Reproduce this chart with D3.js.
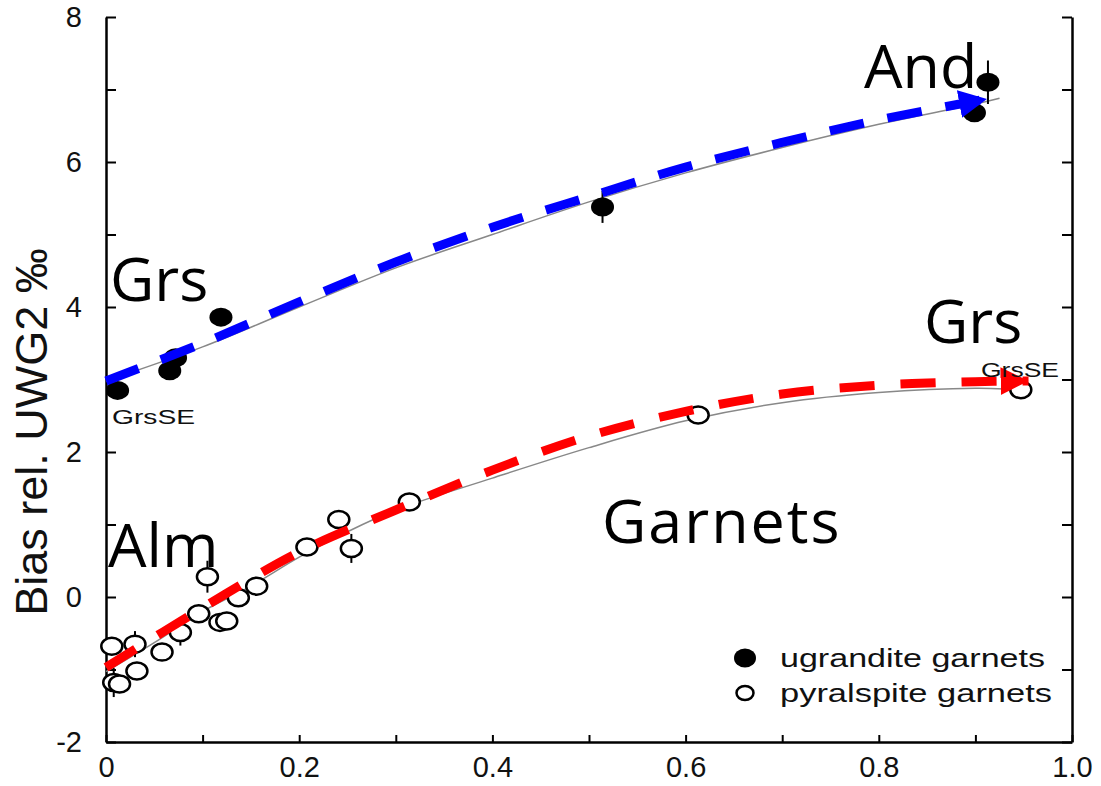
<!DOCTYPE html>
<html lang="en">
<head>
<meta charset="UTF-8">
<script src="https://d3js.org/d3.v7.min.js"></script>
<style>
  body { margin: 0; background: #fff; }
  .tick-label { font-family: "Liberation Sans", Arial, sans-serif; font-size: 29px; fill: #111; }
  .note { font-family: "Open Sans", sans-serif; font-size: 61px; fill: #000; }
  .small { font-family: "Liberation Sans", Arial, sans-serif; font-size: 20px; fill: #111; }
</style>
</head>
<body>
<svg width="1101" height="786"></svg>
<script>
// ugrandite garnets (filled)
var ugranX = [0.012, 0.066, 0.072, 0.119, 0.514, 0.899, 0.913];
var ugranY = [2.85, 3.12, 3.30, 3.86, 5.38, 6.68, 7.10];
var ugranErr = [0, 0, 0, 0, 0.22, 0, 0.3];

// pyralspite garnets (open)
var pyralX = [0.006, 0.008, 0.014, 0.03, 0.032, 0.058, 0.077, 0.096, 0.105, 0.118, 0.125, 0.137, 0.156, 0.208, 0.241, 0.254, 0.314, 0.613, 0.947];
var pyralY = [-0.68, -1.18, -1.2, -0.65, -1.02, -0.76, -0.49, -0.23, 0.28, -0.35, -0.33, -0.01, 0.15, 0.69, 1.07, 0.67, 1.31, 2.51, 2.86];
var pyralErr = [0, 0.2, 0, 0.18, 0, 0, 0.18, 0, 0.22, 0, 0, 0, 0, 0, 0, 0.2, 0, 0, 0];

// thin fit curves
var upperFitX = [0, 0.1, 0.2, 0.3, 0.4, 0.5, 0.6, 0.7, 0.8, 0.9, 0.925];
var upperFitY = [2.98, 3.45, 4.0, 4.54, 5.0, 5.45, 5.85, 6.2, 6.52, 6.8, 6.88];
var lowerFitX = [0, 0.05, 0.1, 0.15, 0.2, 0.25, 0.3, 0.4, 0.5, 0.6, 0.7, 0.8, 0.9, 0.93];
var lowerFitY = [-1.03, -0.63, -0.2, 0.15, 0.55, 0.9, 1.2, 1.64, 2.06, 2.43, 2.68, 2.82, 2.88, 2.87];

// hand-drawn dashed arrows
var blueArrowX = [0, 0.1, 0.2, 0.3, 0.4, 0.5, 0.6, 0.7, 0.8, 0.912];
var blueArrowY = [2.98, 3.5, 4.07, 4.62, 5.1, 5.52, 5.93, 6.27, 6.58, 6.87];
var redArrowX = [0, 0.1, 0.2, 0.3, 0.4, 0.5, 0.6, 0.7, 0.8, 0.9, 0.955];
var redArrowY = [-0.97, -0.15, 0.62, 1.2, 1.75, 2.22, 2.56, 2.8, 2.92, 2.97, 2.98];

var xTicks = [0, 0.1, 0.2, 0.3, 0.4, 0.5, 0.6, 0.7, 0.8, 0.9, 1.0];
var xTickLabels = ["0", "", "0.2", "", "0.4", "", "0.6", "", "0.8", "", "1.0"];
var yTicks = [-2, -1, 0, 1, 2, 3, 4, 5, 6, 7, 8];
var yTickLabels = ["-2", "", "0", "", "2", "", "4", "", "6", "", "8"];

var svg = d3.select("svg");
svg.append("rect").attr("width", 1101).attr("height", 786).attr("fill", "#fff");

var x = d3.scaleLinear().domain([0, 1]).range([106, 1072]);
var y = d3.scaleLinear().domain([-2, 8]).range([742, 17]);

var g = svg.append("g");

// axes, ticks pointing inwards
var axisStyle = function(sel) {
    sel.select(".domain").attr("stroke", "#000").attr("stroke-width", 2.5).attr("fill", "none");
    sel.selectAll(".tick line").attr("stroke", "#000").attr("stroke-width", 2);
};
g.append("g").attr("transform", "translate(0,742)")
    .call(d3.axisBottom(x).tickValues(xTicks).tickSizeInner(-7).tickSizeOuter(0).tickPadding(14)
        .tickFormat(function(d, i) { return xTickLabels[i]; }))
    .call(axisStyle)
    .call(function(s) { s.selectAll("text").attr("class", "tick-label").attr("font-size", null).attr("font-family", null).attr("dy", "0.71em"); });
g.append("g").attr("transform", "translate(106,0)")
    .call(d3.axisLeft(y).tickValues(yTicks).tickSizeInner(-10).tickSizeOuter(0).tickPadding(24)
        .tickFormat(function(d, i) { return yTickLabels[i]; }))
    .call(axisStyle)
    .call(function(s) { s.selectAll("text").attr("class", "tick-label").attr("font-size", null).attr("font-family", null); });
g.append("g").attr("transform", "translate(1072,0)")
    .call(d3.axisRight(y).tickValues(yTicks).tickSizeInner(-10).tickSizeOuter(0).tickFormat(""))
    .call(axisStyle);

// y axis title
svg.append("text")
    .attr("transform", "translate(47,432) rotate(-90)")
    .attr("text-anchor", "middle")
    .attr("font-family", "Liberation Sans, Arial, sans-serif")
    .attr("font-size", 45)
    .attr("fill", "#111")
    .text("Bias rel. UWG2 \u2030");

// fit curves
var line = d3.line().x(function(d) { return x(d[0]); }).y(function(d) { return y(d[1]); }).curve(d3.curveCatmullRom);
g.append("path").datum(d3.zip(upperFitX, upperFitY)).attr("d", line)
    .attr("fill", "none").attr("stroke", "#888").attr("stroke-width", 1.5);
g.append("path").datum(d3.zip(lowerFitX, lowerFitY)).attr("d", line)
    .attr("fill", "none").attr("stroke", "#888").attr("stroke-width", 1.5);

// error bars
function errBars(xs, ys, es) {
    g.selectAll(null).data(d3.range(xs.length).filter(function(i) { return es[i] > 0; }))
        .enter().append("line")
        .attr("x1", function(i) { return x(xs[i]); })
        .attr("x2", function(i) { return x(xs[i]); })
        .attr("y1", function(i) { return y(ys[i] - es[i]); })
        .attr("y2", function(i) { return y(ys[i] + es[i]); })
        .attr("stroke", "#000").attr("stroke-width", 2);
}
errBars(ugranX, ugranY, ugranErr);
errBars(pyralX, pyralY, pyralErr);

g.selectAll(".pyral").data(d3.zip(pyralX, pyralY)).enter().append("ellipse")
    .attr("cx", function(d) { return x(d[0]); })
    .attr("cy", function(d) { return y(d[1]); })
    .attr("rx", 10.5).attr("ry", 8.5)
    .attr("fill", "#fff").attr("stroke", "#000").attr("stroke-width", 2.5);

g.selectAll(".ugran").data(d3.zip(ugranX, ugranY)).enter().append("ellipse")
    .attr("cx", function(d) { return x(d[0]); })
    .attr("cy", function(d) { return y(d[1]); })
    .attr("rx", 11.5).attr("ry", 9.5)
    .attr("fill", "#000");

// dashed arrows
var defs = svg.append("defs");
[["blueHead", "#0000ff"], ["redHead", "#ff0000"]].forEach(function(m) {
    defs.append("marker").attr("id", m[0])
        .attr("viewBox", "0 0 10 10").attr("refX", 10).attr("refY", 5)
        .attr("markerUnits", "userSpaceOnUse")
        .attr("markerWidth", 28).attr("markerHeight", 28)
        .attr("orient", "auto")
        .append("path").attr("d", "M0,0 L10,5 L0,10 Z").attr("fill", m[1]);
});
var arrowLine = d3.line().x(function(d) { return x(d[0]); }).y(function(d) { return y(d[1]); }).curve(d3.curveCatmullRom);
g.append("path").datum(d3.zip(blueArrowX, blueArrowY)).attr("d", arrowLine)
    .attr("fill", "none").attr("stroke", "#0000ff").attr("stroke-width", 9)
    .attr("stroke-dasharray", "35,24").attr("marker-end", "url(#blueHead)");
g.append("path").datum(d3.zip(redArrowX, redArrowY)).attr("d", arrowLine)
    .attr("fill", "none").attr("stroke", "#ff0000").attr("stroke-width", 9)
    .attr("stroke-dasharray", "35,26").attr("marker-end", "url(#redHead)");

// annotations
var notes = [["And", 864, 88, 0], ["Grs", 110, 301, 0], ["Grs", 924, 343, 0], ["Alm", 108, 567, 0], ["Garnets", 602, 543, 2]];
svg.selectAll(".note").data(notes).enter().append("text").attr("class", "note")
    .attr("x", function(d) { return d[1]; }).attr("y", function(d) { return d[2]; })
    .attr("letter-spacing", function(d) { return d[3]; })
    .text(function(d) { return d[0]; });
svg.append("text").attr("class", "small").attr("x", 112).attr("y", 424)
    .attr("textLength", 83).attr("lengthAdjust", "spacingAndGlyphs").text("GrsSE");
svg.append("text").attr("class", "small").attr("x", 981).attr("y", 377)
    .attr("textLength", 78).attr("lengthAdjust", "spacingAndGlyphs").text("GrsSE");

// legend
var legendLabels = ["ugrandite garnets", "pyralspite garnets"];
var lg = svg.append("g").attr("transform", "translate(745,658)");
lg.append("ellipse").attr("cx", 0).attr("cy", 0).attr("rx", 11).attr("ry", 9.5).attr("fill", "#000");
lg.append("ellipse").attr("cx", 0).attr("cy", 35).attr("rx", 8.5).attr("ry", 7).attr("fill", "#fff").attr("stroke", "#000").attr("stroke-width", 2.5);
lg.selectAll("text").data(legendLabels).enter().append("text")
    .attr("x", 35).attr("y", function(d, i) { return 9 + i * 35; })
    .attr("font-family", "Liberation Sans, Arial, sans-serif").attr("font-size", 26).attr("fill", "#111")
    .attr("textLength", function(d, i) { return i ? 272 : 265; }).attr("lengthAdjust", "spacingAndGlyphs")
    .text(function(d) { return d; });
</script>
</body>
</html>
